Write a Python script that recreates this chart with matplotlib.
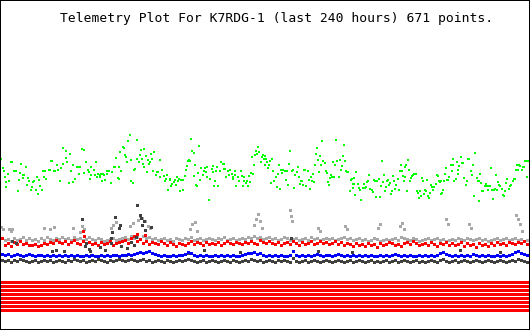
import matplotlib
matplotlib.use("Agg")
import matplotlib.pyplot as plt

title = "Telemetry Plot For K7RDG-1 (last 240 hours) 671 points."

# ---- green channel (sample position, level) ----
green_t = [1,3,4,5,6,6,8,9,11,12,14,16,18,19,20,21,23,24,23,26,27,28,29,31,32,33,34,36,37,38,39,40,42,43,45,44,46,49,50,51,52,54,55,57,58,60,61,63,63,66,66,67,69,70,71,73,73,75,77,78,79,80,82,84,84,86,88,89,
           90,91,91,94,95,96,97,98,100,101,100,102,103,104,105,107,107,109,111,112,114,115,116,118,119,119,120,121,123,124,125,126,127,128,130,131,131,133,134,135,137,137,139,140,141,142,143,144,144,146,147,148,149,150,151,152,153,154,156,157,158,160,160,162,164,165,166,167,168,170,170,171,172,174,175,176,177,
           178,179,180,181,183,183,185,186,187,188,189,190,191,192,194,194,195,196,197,198,199,200,201,203,204,205,206,207,207,209,210,212,213,213,214,215,216,217,218,220,221,223,224,224,225,226,228,229,230,232,233,233,235,235,236,238,239,241,242,243,244,244,246,247,248,249,250,251,252,253,254,255,256,257,258,259,261,262,263,264,265,
           265,266,267,268,269,270,271,272,273,274,276,277,278,279,280,281,282,283,285,286,287,288,289,290,292,293,294,295,297,298,299,300,301,302,303,304,305,306,308,309,310,311,312,313,314,315,316,317,318,319,320,321,322,323,325,326,327,328,329,330,331,332,333,334,335,336,337,339,340,341,342,343,344,345,346,347,348,350,351,352,353,
           353,354,354,355,356,358,359,360,361,363,364,365,366,367,368,369,370,372,373,374,375,376,377,379,380,381,382,383,384,385,386,387,388,389,390,391,392,393,394,395,396,398,399,400,401,402,403,404,405,405,406,407,408,409,410,411,412,413,414,416,417,418,419,420,421,422,423,424,425,426,427,428,429,430,431,432,433,434,436,437,438,439,440,441,
           441,442,443,444,445,446,447,448,449,451,452,453,453,454,456,457,458,458,459,461,462,463,464,466,467,468,469,471,472,473,474,475,477,478,479,479,480,481,482,483,485,486,487,488,489,490,491,492,493,494,495,496,497,498,499,500,502,503,504,505,506,507,509,510,511,513,514,515,516,517,518,519,520,522,523,524,525,527,527,529]
green_v = [159,168,171,177,182,187,174,181,162,162,171,171,191,180,173,164,175,175,178,167,185,178,181,190,187,182,181,190,177,194,180,186,190,171,171,177,179,170,170,161,161,171,171,165,170,181,168,148,164,151,158,162,183,154,171,165,182,179,167,167,174,167,149,150,173,162,170,172,
           179,167,175,170,175,162,177,174,175,174,177,181,174,175,180,174,171,171,183,172,167,167,158,178,179,167,152,171,147,148,155,157,162,141,135,160,181,183,170,169,159,140,162,155,150,159,164,167,149,156,172,160,164,162,154,159,171,152,175,172,172,160,177,170,176,181,179,175,190,180,179,186,184,182,180,185,177,
           181,179,191,180,180,190,176,170,166,161,160,161,139,151,176,153,165,185,186,173,146,180,168,175,171,168,172,167,177,200,179,169,166,172,186,181,171,167,186,171,162,164,164,169,169,177,171,175,170,174,177,179,171,175,186,177,181,171,176,186,181,177,183,181,186,176,182,173,157,174,165,155,151,154,147,152,162,157,155,159,165,
           156,159,162,168,165,161,183,159,171,181,177,187,174,165,189,170,173,170,171,180,171,185,164,151,171,170,188,175,172,167,177,184,181,181,185,170,170,186,171,180,189,177,181,174,182,165,154,148,160,172,156,165,141,161,163,171,173,182,185,178,175,177,162,177,165,140,161,177,160,170,166,156,145,161,171,172,172,191,180,179,184,
           188,178,184,195,172,184,188,190,200,188,184,188,187,182,181,175,189,190,192,180,181,197,181,179,197,186,161,182,175,191,187,181,180,185,183,194,191,176,181,189,185,179,190,171,165,171,176,181,177,167,165,191,160,170,181,178,176,175,174,174,191,193,198,191,196,178,181,194,190,191,180,196,198,193,185,187,190,187,184,175,176,181,182,194,
           181,193,190,181,174,168,180,180,177,165,171,165,159,181,179,162,170,174,166,157,163,163,178,185,181,159,159,171,175,165,196,153,178,181,181,201,174,183,191,191,186,184,186,190,186,186,168,190,199,190,189,175,190,182,185,186,189,195,196,191,183,179,189,186,185,181,179,179,170,165,170,165,166,170,167,167,161,177,161,161]

# ---- low channels, one sample every 3 positions ----
band_t = list(range(2, 530, 3))

red_v = [238,245,243,246,242,244,241,244,243,245,
         245,244,246,245,243,244,242,243,240,242,
         243,241,244,242,240,243,244,241,243,242,
         244,243,245,242,244,243,241,245,243,242,
         241,240,243,238,236,241,239,243,241,244,
         242,243,244,241,243,245,242,244,246,243,
         244,245,243,241,244,242,243,245,242,244,
         243,244,242,245,243,241,243,244,242,243,
         244,242,243,241,243,244,240,242,243,241,
         243,244,242,245,243,242,244,241,243,245,
         242,244,243,241,244,243,241,243,242,244,
         243,241,244,242,245,243,244,246,243,245,
         244,246,243,245,244,247,243,245,244,242,
         243,245,244,246,243,242,244,241,243,245,
         244,243,245,242,244,246,243,244,242,245,
         243,245,244,242,246,243,245,244,247,243,
         245,244,246,243,245,242,244,243,245,242,
         243,244,242,243,241,244]

blue_v = [254,255,254,256,255,254,255,256,255,254,
          255,256,255,255,256,255,256,255,256,255,
          256,255,256,255,256,255,256,256,255,256,
          255,256,256,255,256,255,256,255,255,256,
          255,255,254,255,254,253,252,253,252,251,
          253,254,255,256,255,256,256,255,256,255,
          255,254,252,253,255,256,255,256,255,256,
          256,255,256,255,256,255,256,255,256,256,
          255,254,253,253,252,254,253,255,256,255,
          256,255,256,255,256,256,255,251,255,256,
          255,256,255,256,255,254,255,256,255,255,
          256,255,254,255,256,255,256,255,256,255,
          256,255,256,255,256,256,255,256,255,256,
          255,254,255,256,255,256,255,256,256,255,
          256,255,256,255,256,255,253,252,254,255,
          256,255,256,255,256,255,256,254,255,256,
          255,256,255,256,256,255,256,255,256,255,
          254,252,251,253,254,255]

gray_v = [238,240,239,241,238,240,239,237,240,238,
          240,239,241,238,240,237,239,240,238,239,
          237,239,238,240,237,239,238,240,239,237,
          239,240,238,239,241,240,239,238,240,239,
          238,237,239,236,238,237,239,236,238,237,
          239,238,240,239,238,240,239,241,238,239,
          240,238,239,237,240,239,238,240,239,238,
          239,240,238,239,237,240,239,238,240,239,
          238,239,237,238,236,238,237,239,238,237,
          239,238,240,239,237,238,240,239,238,240,
          239,238,240,237,239,238,240,239,238,239,
          238,240,239,238,237,239,238,240,239,238,
          240,239,241,240,238,239,241,240,239,240,
          239,238,240,237,238,239,240,238,239,241,
          240,239,238,240,239,238,240,239,241,240,
          239,240,238,239,240,238,239,240,239,238,
          240,239,241,240,239,238,240,239,238,240,
          239,238,240,239,241,240]

dark_v = [260,261,260,262,260,261,259,260,261,262,
          261,260,262,261,260,261,260,262,261,260,
          261,262,260,261,259,260,261,260,262,261,
          260,261,259,260,261,262,260,261,260,259,
          260,261,260,259,260,261,260,259,261,260,
          262,261,260,261,262,260,261,262,261,260,
          261,260,259,260,261,262,261,260,262,261,
          260,261,262,261,260,261,262,260,261,262,
          261,260,261,259,260,261,260,262,261,260,
          261,262,260,261,260,261,262,258,261,262,
          261,260,262,261,260,261,262,261,260,261,
          262,261,260,261,262,261,260,262,261,260,
          261,262,261,260,262,261,262,261,260,262,
          261,260,262,261,260,261,262,261,260,262,
          261,262,261,260,261,262,260,259,261,262,
          261,260,262,261,260,261,262,261,260,261,
          262,261,260,261,262,261,260,261,262,261,
          260,261,259,260,261,262]

# ---- outliers ----
gray_spike_t = [1,3,9,11,12,44,50,54,73,80,82,84,111,113,116,130,133,138,140,142,145,148,150,190,192,195,197,254,256,258,260,262,290,291,292,318,320,345,347,378,380,400,402,404,446,448,469,471,516,518,520,522]
gray_spike_v = [227,229,229,231,229,228,229,227,228,232,226,229,228,225,222,226,223,220,216,218,221,226,228,229,224,222,231,225,219,214,221,228,210,216,221,228,231,226,229,228,224,226,223,229,219,224,224,228,215,219,224,231]

red_spike_t = [83,84,137,145]
red_spike_v = [231,236,234,235]

dark_spike_t = [12,16,52,56,64,82,85,86,89,90,91,100,105,111,111,112,115,119,120,121,126,127,131,134,136,137,140,141,142,144,145,151,188,204,240,291,318,352,460,500]
dark_spike_v = [241,243,251,250,251,219,246,243,249,251,255,247,250,238,243,232,217,228,225,246,255,248,242,245,237,205,215,218,225,221,230,227,253,250,252,238,251,252,250,252]

# ---- status bits ----
bit_levels = [281.5, 285.5, 289.5, 293.5, 297.5, 301.5, 305.5, 309.5]

px = 72 / 100.0
fig = plt.figure(figsize=(5.3, 3.3), dpi=100)
ax = fig.add_axes([0, 0, 1, 1])
ax.set_xlim(0, 530)
ax.set_ylim(330, 0)
ax.set_xticks([])
ax.set_yticks([])
for s in ax.spines.values():
    s.set_linewidth(2 * px)
    s.set_color("black")

ax.hlines(bit_levels, 1, 529, colors="#ff0000", linewidth=3 * px, antialiased=False)

kw = dict(linestyle="none", marker="s", markeredgewidth=0, antialiased=False)
band_ms = 3.0 * px
ax.plot(band_t, gray_v, color="#a8a8a8", markersize=band_ms, **kw)
ax.plot(gray_spike_t, gray_spike_v, color="#a8a8a8", markersize=band_ms, **kw)
ax.plot(band_t, red_v, color="#ff0000", markersize=band_ms, **kw)
ax.plot(red_spike_t, red_spike_v, color="#ff0000", markersize=band_ms, **kw)
ax.plot(band_t, dark_v, color="#404040", markersize=band_ms, **kw)
ax.plot(dark_spike_t, dark_spike_v, color="#404040", markersize=band_ms, **kw)
ax.plot(band_t, blue_v, color="#0000ff", markersize=band_ms, **kw)
ax.plot(green_t, green_v, color="#00ff00", markersize=2.4 * px, **kw)

fig.text(60 / 530, 1 - 22 / 330, title, family="DejaVu Sans Mono", fontsize=9.4,
         ha="left", va="baseline", color="black")

fig.savefig("out.png", dpi=100)
